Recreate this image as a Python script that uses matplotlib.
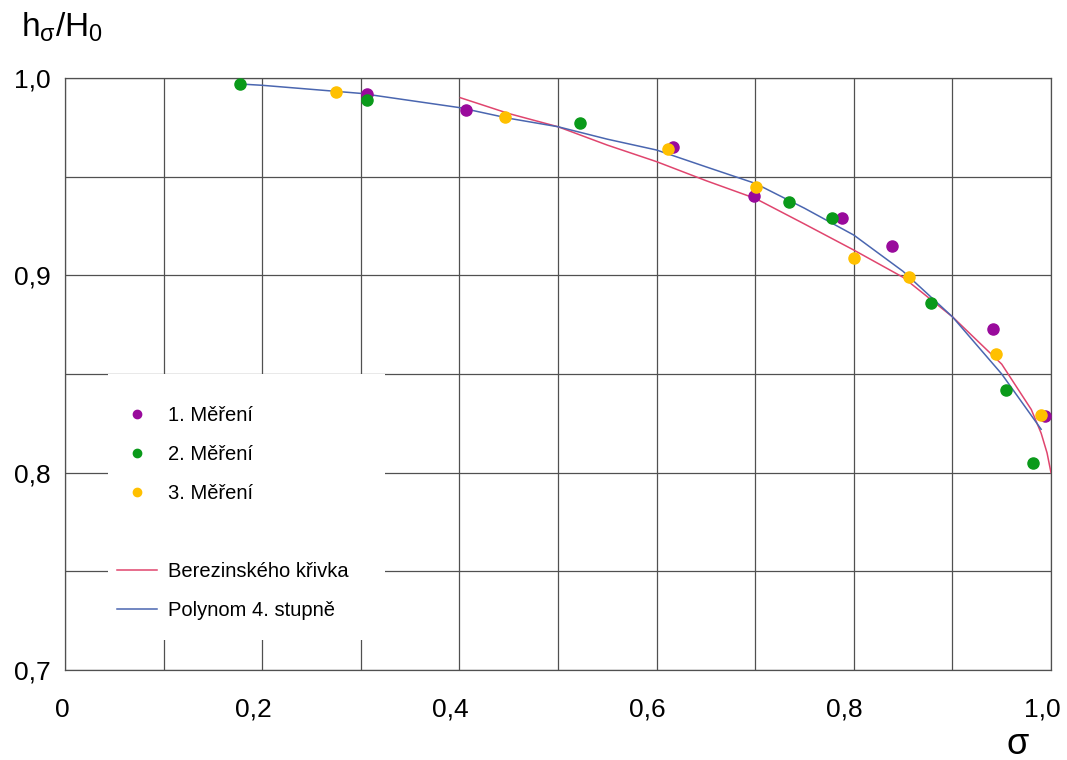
import numpy as np
import matplotlib
matplotlib.use('Agg')
import matplotlib.pyplot as plt
from matplotlib.patches import Rectangle
from matplotlib.lines import Line2D
from matplotlib.transforms import ScaledTranslation

plt.rcParams['font.family'] = ['Liberation Sans', 'DejaVu Sans']
plt.rcParams['mathtext.fontset'] = 'custom'
plt.rcParams['mathtext.rm'] = 'Liberation Sans'
plt.rcParams['mathtext.it'] = 'Liberation Sans'

# naměřené body
m1_x = [0.306, 0.407, 0.617, 0.699, 0.788, 0.839, 0.941, 0.994]
m1_y = [0.992, 0.984, 0.965, 0.940, 0.929, 0.915, 0.873, 0.8285]

m2_x = [0.177, 0.306, 0.522, 0.734, 0.778, 0.878, 0.954, 0.982]
m2_y = [0.997, 0.989, 0.977, 0.937, 0.929, 0.886, 0.842, 0.805]

m3_x = [0.275, 0.446, 0.612, 0.701, 0.800, 0.856, 0.944, 0.990]
m3_y = [0.993, 0.980, 0.964, 0.945, 0.909, 0.899, 0.860, 0.829]

# Berezinského křivka
ber_x = [0.401, 0.45, 0.5, 0.55, 0.6, 0.65, 0.7, 0.75, 0.8, 0.85, 0.9, 0.95, 0.98, 0.99, 0.996, 1.0]
ber_y = [0.990, 0.982, 0.9753, 0.966, 0.9576, 0.948, 0.939, 0.926, 0.9128, 0.899, 0.879, 0.855, 0.832, 0.820, 0.810, 0.800]

# polynom 4. stupně
pol_x = [0.183, 0.2, 0.3, 0.4, 0.45, 0.5, 0.55, 0.6, 0.65, 0.7, 0.75, 0.8, 0.85, 0.9, 0.95, 0.99]
pol_y = [0.9968, 0.9963, 0.9922, 0.985, 0.9796, 0.9753, 0.969, 0.9635, 0.955, 0.9466, 0.934, 0.9204, 0.902, 0.879, 0.850, 0.822]

x_ticks = [0, 0.2, 0.4, 0.6, 0.8, 1.0]
x_labels = ['0', '0,2', '0,4', '0,6', '0,8', '1,0']
y_ticks = [0.7, 0.8, 0.9, 1.0]
y_labels = ['0,7', '0,8', '0,9', '1,0']

c_purple = '#990a9c'
c_green = '#0a9a1a'
c_yellow = '#ffc000'
c_red = '#e0456e'
c_blue = '#4a66b0'
c_grid = '#505050'

fig = plt.figure(figsize=(10.67, 7.6), dpi=100)
ax = fig.add_axes([65 / 1067, 1 - 670 / 760, 986 / 1067, 592 / 760])

ax.set_xlim(0, 1.0)
ax.set_ylim(0.7, 1.0)
ax.set_xticks(x_ticks)
ax.set_xticklabels(x_labels)
ax.set_yticks(y_ticks)
ax.set_yticklabels(y_labels)
ax.set_xticks(np.arange(0.1, 1.0, 0.2), minor=True)
ax.set_yticks([0.75, 0.85, 0.95], minor=True)
ax.tick_params(which='both', length=0)
ax.tick_params(axis='x', pad=20, labelsize=19)
ax.tick_params(axis='y', pad=10, labelsize=19)
ax.grid(True, which='both', color=c_grid, linewidth=0.9)
ax.set_axisbelow(True)
for s in ax.spines.values():
    s.set_color(c_grid)
    s.set_linewidth(0.9)

# popisky osy x jsou v originále mírně posunuté doleva
for lab in ax.get_xticklabels():
    dx = -3 if lab.get_text() == '0' else -9
    lab.set_transform(lab.get_transform() + ScaledTranslation(dx / 100, 0, fig.dpi_scale_trans))

# bílé pole pod legendou
ax.add_patch(Rectangle((0.0436, 0.0507), 0.281, 0.4493, transform=ax.transAxes,
                       facecolor='white', edgecolor='none', zorder=1.5))

ax.plot(ber_x, ber_y, color=c_red, linewidth=1.1, zorder=3)
ax.plot(pol_x, pol_y, color=c_blue, linewidth=1.1, zorder=3)

ax.plot(m1_x, m1_y, 'o', color=c_purple, markersize=8, zorder=4)
ax.plot(m2_x, m2_y, 'o', color=c_green, markersize=8, zorder=4)
ax.plot(m3_x, m3_y, 'o', color=c_yellow, markersize=8, zorder=4)

handles = [
    Line2D([], [], marker='o', linestyle='none', color=c_purple, markersize=6),
    Line2D([], [], marker='o', linestyle='none', color=c_green, markersize=6),
    Line2D([], [], marker='o', linestyle='none', color=c_yellow, markersize=6),
    Line2D([], [], linestyle='none'),
    Line2D([], [], color=c_red, linewidth=1.1),
    Line2D([], [], color=c_blue, linewidth=1.1),
]
labels = ['1. Měření', '2. Měření', '3. Měření', ' ', 'Berezinského křivka', 'Polynom 4. stupně']
ax.legend(handles, labels, loc='upper left', bbox_to_anchor=(0.0527, 0.4465),
          frameon=False, fontsize=14.5, labelspacing=1.0, handlelength=2.0,
          handletextpad=0.55, borderpad=0, borderaxespad=0, numpoints=1)

fig.text(21 / 1067, 1 - 37 / 760, r'h$_{\mathrm{σ}}$/H$_{\mathrm{0}}$', fontsize=24,
         va='baseline', ha='left')
fig.text(1018 / 1067, 1 - 744 / 760, 'σ', fontsize=26, va='center', ha='center')

fig.savefig('out.png', dpi=100, facecolor='white')
